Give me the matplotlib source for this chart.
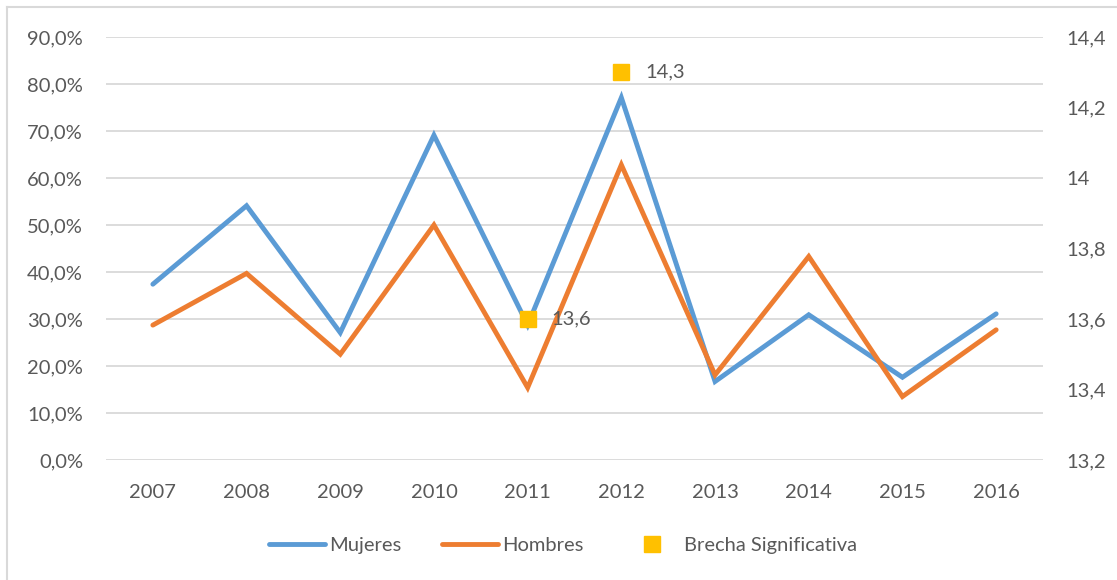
import numpy as np
import matplotlib.pyplot as plt
from matplotlib.lines import Line2D

plt.rcParams['font.family'] = ['Lato', 'DejaVu Sans']

# data
years = ['2007', '2008', '2009', '2010', '2011', '2012', '2013', '2014', '2015', '2016']
mujeres = [37.4, 54.1, 27.1, 69.1, 28.7, 77.1, 16.7, 30.9, 17.6, 31.1]
hombres = [28.7, 39.7, 22.5, 50.0, 15.4, 62.8, 18.1, 43.3, 13.5, 27.7]
brecha_years = ['2011', '2012']
brecha = [13.6, 14.3]

left_ticks = [0, 10, 20, 30, 40, 50, 60, 70, 80, 90]
right_ticks = [13.2, 13.4, 13.6, 13.8, 14.0, 14.2, 14.4]

blue = '#5B9BD5'
orange = '#ED7D31'
gold = '#FFC000'
txt = '#595959'
grid = '#D9D9D9'
fs = 14.5

fig = plt.figure(figsize=(11.17, 5.8), dpi=100)
ax = fig.add_axes([106 / 1117, 1 - 460 / 580, 937 / 1117, 423 / 580])
ax2 = ax.twinx()

x = np.arange(len(years))
ax.plot(x, mujeres, color=blue, lw=3.5, solid_capstyle='round', solid_joinstyle='miter', zorder=3)
ax.plot(x, hombres, color=orange, lw=3.5, solid_capstyle='round', solid_joinstyle='miter', zorder=3)

bx = [years.index(y) for y in brecha_years]
ax2.plot(bx, brecha, 's', color=gold, ms=11, zorder=4)
for xi, v in zip(bx, brecha):
    ax2.annotate('{:.1f}'.format(v).replace('.', ','), (xi, v), xytext=(17, 0),
                 textcoords='offset points', va='center', ha='left', fontsize=fs, color=txt)

ax.set_xlim(-0.5, len(years) - 0.5)
ax.set_ylim(0, 90)
ax2.set_ylim(13.2, 14.4)
ax.set_yticks(left_ticks)
ax.set_yticklabels(['{:.1f}%'.format(t).replace('.', ',') for t in left_ticks])
ax2.set_yticks(right_ticks)
ax2.set_yticklabels([('{:.1f}'.format(t).replace('.', ',') if t != 14.0 else '14') for t in right_ticks])
ax.set_xticks(x)
ax.set_xticklabels(years)

for a in (ax, ax2):
    for s in a.spines.values():
        s.set_visible(False)
    a.tick_params(length=0, labelsize=fs, labelcolor=txt)
ax.tick_params(axis='y', pad=16.5)
ax.tick_params(axis='x', pad=17.5)
ax2.tick_params(axis='y', pad=16.5)
ax.grid(axis='y', color=grid, lw=1.3)
ax.set_axisbelow(True)

# outer chart border
fig.add_artist(Line2D([6.5 / 1117, 1], [1 - 7 / 580, 1 - 7 / 580], color=grid, lw=1.5))
fig.add_artist(Line2D([6.5 / 1117, 6.5 / 1117], [0, 1 - 7 / 580], color=grid, lw=1.5))

handles = [Line2D([], [], color=blue, lw=3.5, solid_capstyle='round'),
           Line2D([], [], color=orange, lw=3.5, solid_capstyle='round'),
           Line2D([], [], marker='s', color=gold, ls='none', ms=11)]
fig.legend(handles, ['Mujeres', 'Hombres', 'Brecha Significativa'], loc='center left',
           bbox_to_anchor=(259 / 1117, 1 - 545 / 580), ncol=3, frameon=False, borderpad=0,
           fontsize=fs, labelcolor=txt, handlelength=2.8, handletextpad=0.2, columnspacing=2.0)

fig.savefig('out.png', dpi=100)
